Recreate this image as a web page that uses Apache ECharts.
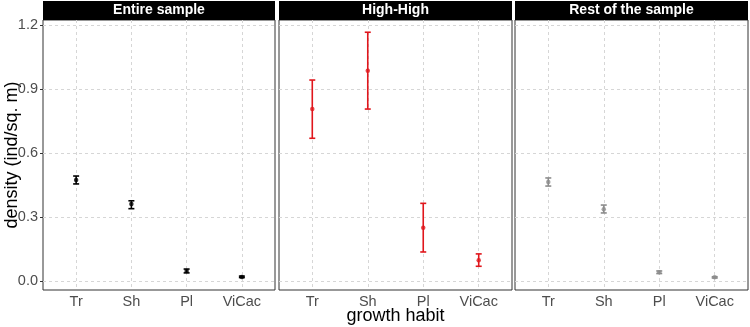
<!DOCTYPE html>
<html>
<head>
<meta charset="utf-8">
<script src="https://cdn.jsdelivr.net/npm/echarts@6/dist/echarts.min.js"></script>
<style>
  html, body { margin: 0; padding: 0; background: #fff; }
  #main { width: 750px; height: 327px; }
</style>
</head>
<body>
<div id="main"></div>
<script>
const categories = ['Tr', 'Sh', 'Pl', 'ViCac']
const panels = ['Entire sample', 'High-High', 'Rest of the sample']
const yTicks = [0, 0.3, 0.6, 0.9, 1.2]

const entireMean = [0.473, 0.361, 0.047, 0.019]
const entireLow = [0.455, 0.339, 0.038, 0.016]
const entireHigh = [0.492, 0.376, 0.056, 0.023]

const highMean = [0.806, 0.986, 0.25, 0.097]
const highLow = [0.669, 0.806, 0.136, 0.069]
const highHigh = [0.942, 1.166, 0.364, 0.127]

const restMean = [0.464, 0.336, 0.041, 0.017]
const restLow = [0.445, 0.319, 0.035, 0.014]
const restHigh = [0.483, 0.356, 0.047, 0.02]

const colors = ['#000000', '#e0161c', '#8c8c8c']
const means = [entireMean, highMean, restMean]
const lows = [entireLow, highLow, restLow]
const highs = [entireHigh, highHigh, restHigh]

const myChart = echarts.init(document.getElementById('main'))

// panel layout (px)
const lefts = [43, 279, 515]
const widths = [232, 233, 233]
const gridTop = 20
const gridHeight = 270
const xPos = categories.map((c, i) => i + 1)

const grids = []
const xAxes = []
const yAxes = []
const series = []
const graphics = []

panels.forEach((name, p) => {
  grids.push({
    left: lefts[p],
    top: gridTop,
    width: widths[p],
    height: gridHeight,
    show: true,
    borderColor: '#333',
    borderWidth: 1,
    backgroundColor: '#fff',
  })
  xAxes.push({
    type: 'value',
    gridIndex: p,
    min: 0.4,
    max: 4.6,
    axisLine: { show: false },
    axisTick: { show: false, customValues: xPos },
    axisLabel: {
      customValues: xPos,
      formatter: (v) => categories[Math.round(v) - 1] || '',
      color: '#4d4d4d',
      fontSize: 14.5,
      fontFamily: 'Liberation Sans',
      margin: 4,
    },
    splitLine: {
      show: true,
      lineStyle: { color: '#d6d6d6', type: [3, 3], width: 1 },
    },
  })
  yAxes.push({
    type: 'value',
    gridIndex: p,
    min: -0.0422,
    max: 1.2234,
    axisLine: { show: false },
    axisTick: {
      show: p === 0,
      customValues: yTicks,
      length: 3,
      lineStyle: { color: '#333' },
    },
    axisLabel: {
      show: p === 0,
      customValues: yTicks,
      formatter: (v) => v.toFixed(1),
      color: '#4d4d4d',
      fontSize: 14.5,
      fontFamily: 'Liberation Sans',
      margin: 5,
    },
    splitLine: {
      show: true,
      lineStyle: { color: '#d6d6d6', type: [3, 3], width: 1 },
    },
  })

  const color = colors[p]
  series.push({
    type: 'custom',
    xAxisIndex: p,
    yAxisIndex: p,
    data: xPos.map((x, i) => [x, lows[p][i], highs[p][i]]),
    renderItem: function (params, api) {
      const lo = api.coord([api.value(0), api.value(1)])
      const hi = api.coord([api.value(0), api.value(2)])
      const w = 3
      const style = { stroke: color, lineWidth: 1.6 }
      return {
        type: 'group',
        children: [
          { type: 'line', shape: { x1: lo[0], y1: lo[1], x2: hi[0], y2: hi[1] }, style },
          { type: 'line', shape: { x1: hi[0] - w, y1: hi[1], x2: hi[0] + w, y2: hi[1] }, style },
          { type: 'line', shape: { x1: lo[0] - w, y1: lo[1], x2: lo[0] + w, y2: lo[1] }, style },
        ],
      }
    },
    z: 3,
  })
  series.push({
    type: 'scatter',
    xAxisIndex: p,
    yAxisIndex: p,
    data: xPos.map((x, i) => [x, means[p][i]]),
    symbolSize: 4.5,
    itemStyle: { color: color },
    z: 4,
  })

  // facet strip
  graphics.push({
    type: 'rect',
    shape: { x: lefts[p], y: 1, width: widths[p], height: gridTop - 1 },
    style: { fill: '#000' },
  })
  graphics.push({
    type: 'text',
    x: lefts[p] + widths[p] / 2,
    y: 1 + (gridTop - 1) / 2,
    style: {
      text: name,
      fill: '#fff',
      font: 'bold 14px "Liberation Sans"',
      textAlign: 'center',
      textVerticalAlign: 'middle',
    },
  })
})

// axis titles
graphics.push({
  type: 'text',
  x: (lefts[0] + lefts[2] + widths[2]) / 2,
  y: 316,
  style: {
    text: 'growth habit',
    fill: '#000',
    font: '18px "Liberation Sans"',
    textAlign: 'center',
    textVerticalAlign: 'middle',
  },
})
graphics.push({
  type: 'text',
  x: 12,
  y: gridTop + gridHeight / 2,
  rotation: Math.PI / 2,
  style: {
    text: 'density (ind/sq. m)',
    fill: '#000',
    font: '18px "Liberation Sans"',
    textAlign: 'center',
    textVerticalAlign: 'middle',
  },
})

const option = {
  backgroundColor: '#fff',
  animation: false,
  grid: grids,
  xAxis: xAxes,
  yAxis: yAxes,
  series: series,
  graphic: graphics,
}

option && myChart.setOption(option)
</script>
</body>
</html>
